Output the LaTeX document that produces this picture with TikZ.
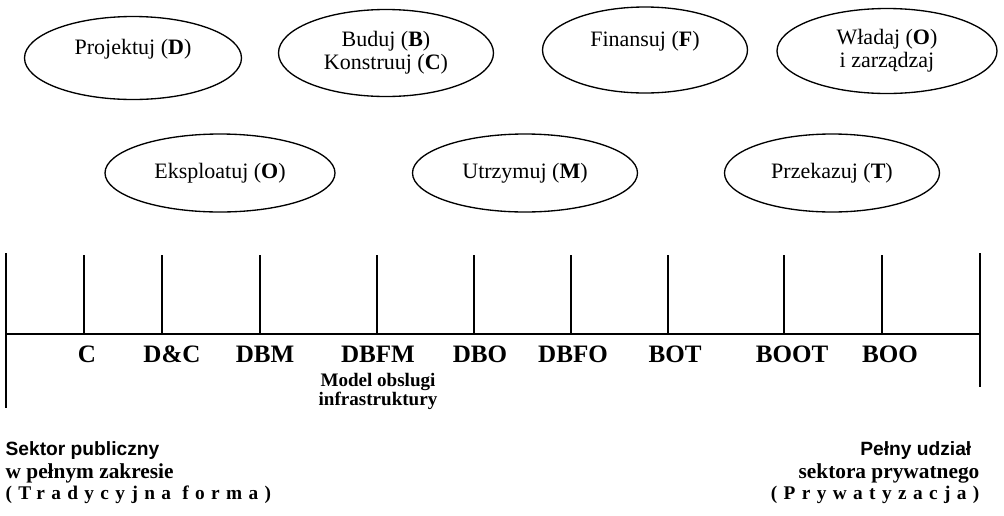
\documentclass[tikz,border=0pt]{standalone}
\usepackage{fontspec}
\setmainfont{Liberation Serif}
\setsansfont{Liberation Sans}
\usetikzlibrary{positioning}
\usetikzlibrary{shapes.geometric}

\begin{document}
\begin{tikzpicture}[x=0.75pt,y=-0.75pt,line width=1pt,
		phase/.style={draw,ellipse,inner sep=0pt,align=center,font=\fontsize{16.5}{17}\selectfont},
		model/.style={anchor=base,inner sep=0pt,font=\fontsize{18.8}{20}\selectfont\bfseries},
		sidetext/.style={inner sep=0pt,font=\fontsize{16}{17}\selectfont\bfseries},
		sidehead/.style={inner sep=0pt,font=\fontsize{14.4}{15}\selectfont\sffamily\bfseries},
		spaced/.style={inner sep=0pt,font=\fontsize{14.5}{16}\selectfont\bfseries\addfontfeature{LetterSpace=33}}]
	\useasboundingbox (0,0) rectangle (1004,515);

	% phases, upper row
	\node [phase,minimum width=162.75pt,minimum height=62.25pt] (design) at (133,58) {Projektuj (\textbf{D})\\~};
	\node [phase,minimum width=161.25pt,minimum height=65.25pt] (build) at (386,53) {Buduj (\textbf{B})\\Konstruuj (\textbf{C})};
	\node [phase,minimum width=153.75pt,minimum height=64.5pt] (finance) at (645,50) {Finansuj (\textbf{F})\\~};
	\node [phase,minimum width=165pt,minimum height=63.75pt] (own) at (887,51) {Władaj (\textbf{O})\\i zarządzaj};
	% phases, lower row
	\node [phase,minimum width=172.5pt,minimum height=58.5pt] (operate) at (220,173) {Eksploatuj (\textbf{O})};
	\node [phase,minimum width=168.75pt,minimum height=58.5pt] (maintain) at (525,173) {Utrzymuj (\textbf{M})};
	\node [phase,minimum width=161.25pt,minimum height=58.5pt] (transfer) at (832,173) {Przekazuj (\textbf{T})};

	% scale
	\coordinate (axis-left) at (6,334);
	\coordinate (axis-right) at (980,334);
	\draw (axis-left) -- (axis-right);
	\draw ([yshift=60.75pt]axis-left) -- ([yshift=-55.5pt]axis-left);
	\draw ([yshift=60.75pt]axis-right) -- ([yshift=-39.75pt]axis-right);
	\foreach \x/\dx/\id/\txt in {84/3/c/C,162/10/dc/D\&C,260/5/dbm/DBM,377/1/dbfm/DBFM,474/6/dbo/DBO,
			571/2/dbfo/DBFO,668/7/bot/BOT,784/8/boot/BOOT,882/8/boo/BOO} {
		\coordinate (t-\id) at (\x,334);
		\draw ([yshift=59.25pt]t-\id) -- (t-\id);
		\node [model] (m-\id) at (\x+\dx,362) {\txt};
	}
	\node [anchor=north,inner sep=0pt,align=center,font=\fontsize{14.3}{14.25}\selectfont\bfseries] (note) at (378,373) {Model obslugi\\infrastruktury};

	% ends of the scale
	\node [sidehead,anchor=base west] (public) at (5,455) {Sektor publiczny};
	\node [sidetext,anchor=base west] (public-2) at (5,478) {w pełnym zakresie};
	\node [spaced,anchor=base west] (public-3) at (5,499) {(Tradycyjna forma)};
	\node [sidehead,anchor=base east] (private) at (972,455) {Pełny udział};
	\node [sidetext,anchor=base east] (private-2) at (980,478) {sektora prywatnego};
	\node [spaced,anchor=base east] (private-3) at (980,499) {(Prywatyzacja)};
\end{tikzpicture}
\end{document}
